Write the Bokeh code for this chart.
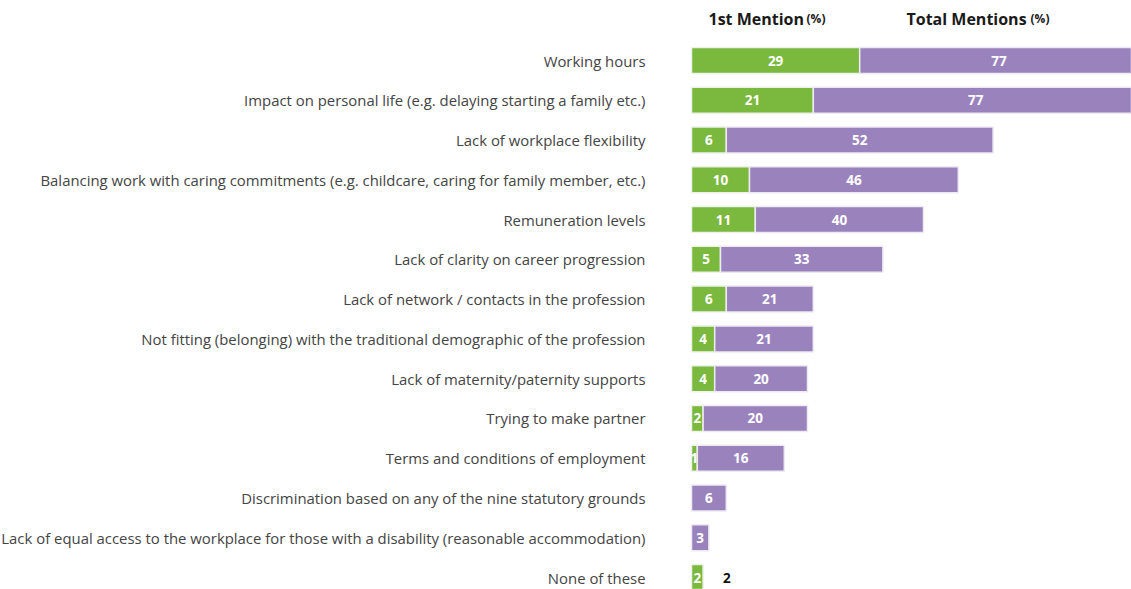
from bokeh.plotting import figure
from bokeh.models import ColumnDataSource, Range1d
from bokeh.core.properties import value
from bokeh.embed import file_html
from bokeh.resources import INLINE

categories = [
    "Working hours",
    "Impact on personal life (e.g. delaying starting a family etc.)",
    "Lack of workplace flexibility",
    "Balancing work with caring commitments (e.g. childcare, caring for family member, etc.)",
    "Remuneration levels",
    "Lack of clarity on career progression",
    "Lack of network / contacts in the profession",
    "Not fitting (belonging) with the traditional demographic of the profession",
    "Lack of maternity/paternity supports",
    "Trying to make partner",
    "Terms and conditions of employment",
    "Discrimination based on any of the nine statutory grounds",
    "Lack of equal access to the workplace for those with a disability (reasonable accommodation)",
    "None of these",
]
first_mention = [29, 21, 6, 10, 11, 5, 6, 4, 4, 2, 1, 0, 0, 2]
total_mentions = [77, 77, 52, 46, 40, 33, 21, 21, 20, 20, 16, 6, 3, 2]

GREEN = "#7ab83e"
PURPLE = "#9a83bd"
W, H = 1131, 589
X0 = 691      # pixel position of zero
PX = 5.8      # pixels per unit
Y0 = 60       # pixel centre of first row
DY = 39.77    # pixels between rows

rows = list(range(len(categories)))
purple_len = [t - f for f, t in zip(first_mention, total_mentions)]

p = figure(width=W, height=H, output_backend="svg", toolbar_location=None,
           x_range=Range1d(-X0 / PX, (W - X0) / PX),
           y_range=Range1d((H - Y0) / DY, -Y0 / DY), min_border=0)
p.axis.visible = False
p.grid.visible = False
p.outline_line_color = None
p.background_fill_color = "white"
p.border_fill_color = "white"

BH = 26 / DY

# green segments
g_rows = [r for r, f in zip(rows, first_mention) if f > 0]
g_vals = [f for f in first_mention if f > 0]
gsrc = ColumnDataSource(dict(y=g_rows, right=g_vals, left=[0] * len(g_vals),
                             mid=[v / 2 for v in g_vals], lab=[str(v) for v in g_vals]))
p.hbar(y="y", left="left", right="right", height=BH, source=gsrc,
       fill_color=GREEN, line_color="#eef2ea", line_width=1.5)

# purple segments
pr = [(r, f, t) for r, f, t, pl in zip(rows, first_mention, total_mentions, purple_len) if pl > 0]
psrc = ColumnDataSource(dict(y=[a[0] for a in pr], left=[a[1] for a in pr],
                             right=[a[2] for a in pr],
                             mid=[(a[1] + a[2]) / 2 for a in pr],
                             lab=[str(a[2]) for a in pr]))
p.hbar(y="y", left="left", right="right", height=BH, source=psrc,
       fill_color=PURPLE, line_color="#eeeaf2", line_width=1.5)

# labels inside bars
for src in (gsrc, psrc):
    p.text(x="mid", y="y", text="lab", source=src, text_align="center",
           text_baseline="middle", text_color="white", text_font=value("Open Sans"),
           text_font_style="bold", text_font_size="13.5px")

# total label outside when no purple segment
orows = [(r, f, t) for r, f, t, pl in zip(rows, first_mention, total_mentions, purple_len) if pl <= 0]
osrc = ColumnDataSource(dict(y=[a[0] for a in orows], x=[max(a[1], a[2]) for a in orows],
                             lab=[str(a[2]) for a in orows]))
p.text(x="x", y="y", text="lab", source=osrc, x_offset=20, text_align="left",
       text_baseline="middle", text_color="#111111", text_font=value("Open Sans"),
       text_font_style="bold", text_font_size="13.5px")

# category labels
csrc = ColumnDataSource(dict(y=rows, x=[-46 / PX] * len(rows), lab=categories))
p.text(x="x", y="y", text="lab", source=csrc, text_align="right", text_baseline="middle",
       text_color="#444444", text_font=value("Open Sans"), text_font_size="14.9px")

# headers
hy = (18 - Y0) / DY
for xpix, txt, size in [(17, "1st Mention", "16px"), (115, "(%)", "12px"),
                        (215, "Total Mentions", "16px"), (339, "(%)", "12px")]:
    p.text(x=[xpix / PX], y=[hy], text=[txt], text_align="left", text_baseline="middle",
           text_color="#1a1a1a", text_font=value("Open Sans"), text_font_style="bold",
           text_font_size=size)

open("out.html", "w").write(file_html(p, INLINE))
